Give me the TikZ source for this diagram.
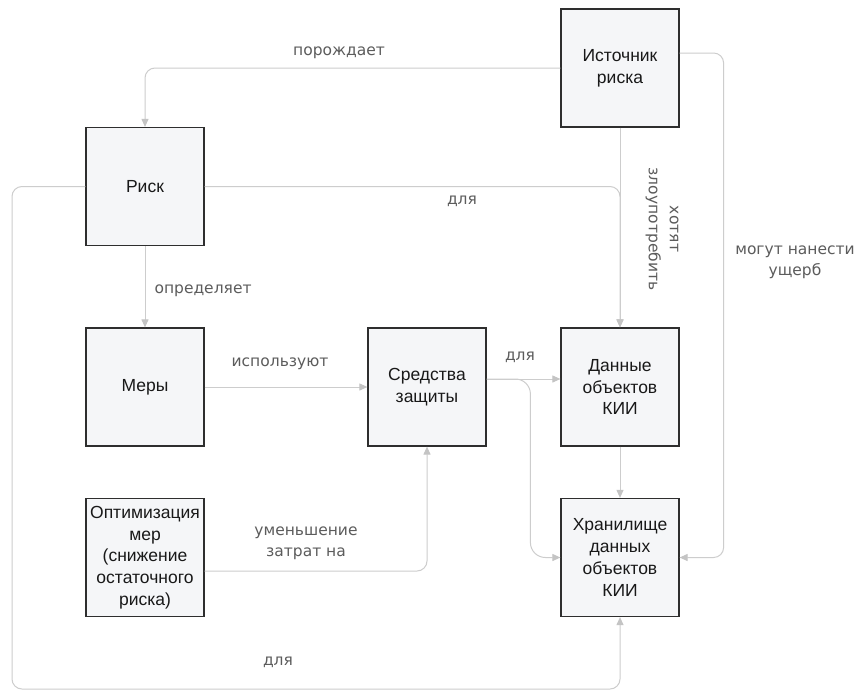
\documentclass[tikz,border=0pt]{standalone}
\usepackage{fontspec}
\setmainfont{Liberation Sans}
\newfontfamily\lblfont{DejaVu Sans}
\usepackage{xcolor}
\usepackage{tikz}
\usetikzlibrary{arrows.meta}
\definecolor{boxfill}{HTML}{F5F6F8}
\definecolor{boxline}{HTML}{2E2E2E}
\definecolor{wire}{HTML}{CDCDCD}
\definecolor{tip}{HTML}{C4C4C4}
\definecolor{lbl}{HTML}{5C5C5C}
\tikzset{
  box/.style={draw=boxline, fill=boxfill, line width=1.2pt, minimum width=118pt, minimum height=118pt,
    inner sep=0pt, align=center, text=black!90, font=\fontsize{17.5}{21.7}\selectfont},
  link/.style={draw=wire, line width=1pt, rounded corners=10pt,
    -{Triangle[length=8pt, width=7pt, color=tip]}},
  wire/.style={draw=wire, line width=1pt, rounded corners=10pt},
  lab/.style={text=lbl, align=center, font=\lblfont\fontsize{15.5}{21}\selectfont},
}

\begin{document}
\begin{tikzpicture}[x=1pt, y=-1pt]
  \useasboundingbox[fill=white] (0,0) rectangle (861,691);
  % boxes
  \node[box] (src) at (620,68) {Источник\\риска};
  \node[box] (risk) at (145,186.5) {Риск};
  \node[box] (measures) at (145,387) {Меры};
  \node[box] (tools) at (427,387) {Средства\\защиты};
  \node[box] (data) at (620,387) {Данные\\объектов\\КИИ};
  \node[box] (optim) at (145,557.5) {Оптимизация\\мер\\(снижение\\остаточного\\риска)};
  \node[box] (store) at (620,557.5) {Хранилище\\данных\\объектов\\КИИ};
  \coordinate (loop) at (12,689);
  % source of risk
  \draw[link] (src.west) -| (risk.north);
  \draw[link] (src.south) -- (data.north);
  \draw[link] ([yshift=15pt]src.east) -| ([xshift=44pt]store.east) -- (store.east);
  % risk
  \draw[link] (risk.east) -| (data.north);
  \draw[link] (risk.south) -- (measures.north);
  \draw[link] (risk.west) -| (loop) -| (store.south);
  % measures and tools
  \draw[link] (measures.east) -- (tools.west);
  \draw[link] ([yshift=8pt]tools.east) -- ([yshift=8pt]data.west);
  \draw[link, rounded corners=15pt] ([yshift=8pt]tools.east) -| ([xshift=-30pt]store.west) -- (store.west);
  \draw[link] ([yshift=-13.5pt]optim.east) -| (tools.south);
  \draw[link] (data.south) -- (store.north);
  % labels
  \node[lab] (l1) at (339,53) {порождает};
  \node[lab] (l2) at (462,201) {для};
  \node[lab, rotate=-90] (l3) at (662,229) {хотят\\злоупотребить};
  \node[lab] (l4) at (795,262) {могут нанести\\ущерб};
  \node[lab, anchor=west] (l5) at (151,291) {определяет};
  \node[lab] (l6) at (280,364) {используют};
  \node[lab] (l7) at (520,357) {для};
  \node[lab] (l8) at (306,543) {уменьшение\\затрат на};
  \node[lab] (l9) at (278,662) {для};
\end{tikzpicture}
\end{document}
